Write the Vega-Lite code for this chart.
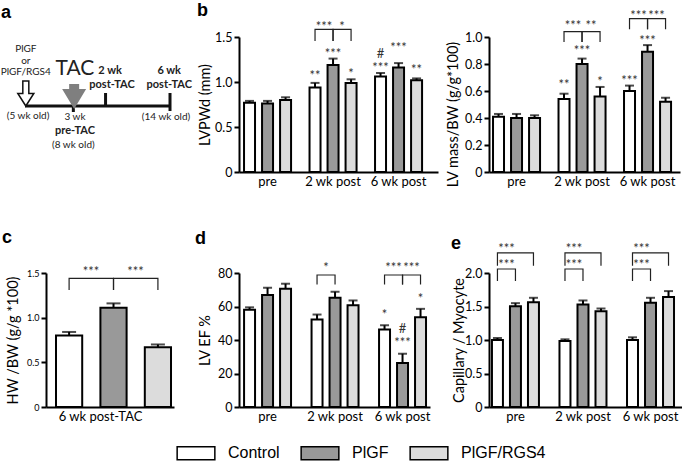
{
  "$schema": "https://vega.github.io/schema/vega-lite/v6.json",
  "padding": {"left": 0, "top": 1, "right": 0, "bottom": 0},
  "background": "#ffffff",
  "datasets": {
    "timeline": [
      {"part": "timeline", "age": 5, "age_end": 14, "level": 0, "level_end": 0},
      {"part": "TAC", "age": 8, "age_end": 8, "level": 0, "level_end": -6},
      {"part": "2 wk post-TAC", "age": 10, "age_end": 10, "level": 13, "level_end": 0},
      {"part": "6 wk post-TAC", "age": 14, "age_end": 14, "level": 13, "level_end": -5}
    ],
    "arrows": [
      {"event": "treatment", "age": 5.05, "level": 12.5},
      {"event": "TAC", "age": 8.05, "level": 9.5}
    ],
    "diagramText": [
      {"text": "PlGF", "age": 5.05, "level": 57, "role": "treatment"},
      {"text": "or", "age": 5.05, "level": 45, "role": "treatment"},
      {"text": "PlGF/RGS4", "age": 5.05, "level": 34, "role": "treatment"},
      {"text": "TAC", "age": 8.1, "level": 37, "role": "procedure"},
      {"text": "2 wk", "age": 10.28, "level": 35, "role": "time point"},
      {"text": "post-TAC", "age": 10.4, "level": 21.5, "role": "time point"},
      {"text": "6 wk", "age": 13.95, "level": 35, "role": "time point"},
      {"text": "post-TAC", "age": 13.95, "level": 21.5, "role": "time point"},
      {"text": "(5 wk old)", "age": 5.19, "level": -10, "role": "age"},
      {"text": "3 wk", "age": 8.1, "level": -11, "role": "age"},
      {"text": "pre-TAC", "age": 8.1, "level": -25, "role": "time point"},
      {"text": "(8 wk old)", "age": 8, "level": -39, "role": "age"},
      {"text": "(14 wk old)", "age": 13.75, "level": -11, "role": "age"}
    ],
    "bars": [
      {"measure": "LVPWd", "time": "pre", "group": "Control", "value": 0.77, "upper": 0.79},
      {"measure": "LVPWd", "time": "pre", "group": "PlGF", "value": 0.76, "upper": 0.79},
      {"measure": "LVPWd", "time": "pre", "group": "PlGF/RGS4", "value": 0.80, "upper": 0.83},
      {"measure": "LVPWd", "time": "2 wk post", "group": "Control", "value": 0.94, "upper": 0.99},
      {"measure": "LVPWd", "time": "2 wk post", "group": "PlGF", "value": 1.19, "upper": 1.26},
      {"measure": "LVPWd", "time": "2 wk post", "group": "PlGF/RGS4", "value": 0.99, "upper": 1.03},
      {"measure": "LVPWd", "time": "6 wk post", "group": "Control", "value": 1.06, "upper": 1.10},
      {"measure": "LVPWd", "time": "6 wk post", "group": "PlGF", "value": 1.16, "upper": 1.21},
      {"measure": "LVPWd", "time": "6 wk post", "group": "PlGF/RGS4", "value": 1.02, "upper": 1.04},
      {"measure": "LVmass", "time": "pre", "group": "Control", "value": 0.41, "upper": 0.43},
      {"measure": "LVmass", "time": "pre", "group": "PlGF", "value": 0.40, "upper": 0.43},
      {"measure": "LVmass", "time": "pre", "group": "PlGF/RGS4", "value": 0.40, "upper": 0.42},
      {"measure": "LVmass", "time": "2 wk post", "group": "Control", "value": 0.54, "upper": 0.58},
      {"measure": "LVmass", "time": "2 wk post", "group": "PlGF", "value": 0.80, "upper": 0.84},
      {"measure": "LVmass", "time": "2 wk post", "group": "PlGF/RGS4", "value": 0.56, "upper": 0.63},
      {"measure": "LVmass", "time": "6 wk post", "group": "Control", "value": 0.60, "upper": 0.64},
      {"measure": "LVmass", "time": "6 wk post", "group": "PlGF", "value": 0.89, "upper": 0.94},
      {"measure": "LVmass", "time": "6 wk post", "group": "PlGF/RGS4", "value": 0.52, "upper": 0.55},
      {"measure": "HW", "time": "6 wk post-TAC", "group": "Control", "value": 0.80, "upper": 0.84},
      {"measure": "HW", "time": "6 wk post-TAC", "group": "PlGF", "value": 1.11, "upper": 1.16},
      {"measure": "HW", "time": "6 wk post-TAC", "group": "PlGF/RGS4", "value": 0.67, "upper": 0.70},
      {"measure": "EF", "time": "pre", "group": "Control", "value": 58, "upper": 59.5},
      {"measure": "EF", "time": "pre", "group": "PlGF", "value": 66.8, "upper": 71.2},
      {"measure": "EF", "time": "pre", "group": "PlGF/RGS4", "value": 70.6, "upper": 73.6},
      {"measure": "EF", "time": "2 wk post", "group": "Control", "value": 52.2, "upper": 55.2},
      {"measure": "EF", "time": "2 wk post", "group": "PlGF", "value": 65.2, "upper": 68.8},
      {"measure": "EF", "time": "2 wk post", "group": "PlGF/RGS4", "value": 60.8, "upper": 63.6},
      {"measure": "EF", "time": "6 wk post", "group": "Control", "value": 46.2, "upper": 48.8},
      {"measure": "EF", "time": "6 wk post", "group": "PlGF", "value": 26.2, "upper": 31.8},
      {"measure": "EF", "time": "6 wk post", "group": "PlGF/RGS4", "value": 53.6, "upper": 58.6},
      {"measure": "Cap", "time": "pre", "group": "Control", "value": 1.00, "upper": 1.03},
      {"measure": "Cap", "time": "pre", "group": "PlGF", "value": 1.505, "upper": 1.55},
      {"measure": "Cap", "time": "pre", "group": "PlGF/RGS4", "value": 1.565, "upper": 1.63},
      {"measure": "Cap", "time": "2 wk post", "group": "Control", "value": 0.985, "upper": 1.01},
      {"measure": "Cap", "time": "2 wk post", "group": "PlGF", "value": 1.53, "upper": 1.59},
      {"measure": "Cap", "time": "2 wk post", "group": "PlGF/RGS4", "value": 1.43, "upper": 1.47},
      {"measure": "Cap", "time": "6 wk post", "group": "Control", "value": 1.00, "upper": 1.04},
      {"measure": "Cap", "time": "6 wk post", "group": "PlGF", "value": 1.555, "upper": 1.63},
      {"measure": "Cap", "time": "6 wk post", "group": "PlGF/RGS4", "value": 1.64, "upper": 1.73}
    ],
    "notes": [
      {"measure": "LVPWd", "time": "2 wk post", "group": "Control", "value": 1.10, "label": "**"},
      {"measure": "LVPWd", "time": "2 wk post", "group": "PlGF", "value": 1.35, "label": "***"},
      {"measure": "LVPWd", "time": "2 wk post", "group": "PlGF/RGS4", "value": 1.12, "label": "*"},
      {"measure": "LVPWd", "time": "6 wk post", "group": "Control", "value": 1.19, "label": "***"},
      {"measure": "LVPWd", "time": "6 wk post", "group": "Control", "value": 1.34, "label": "#"},
      {"measure": "LVPWd", "time": "6 wk post", "group": "PlGF", "value": 1.41, "label": "***"},
      {"measure": "LVPWd", "time": "6 wk post", "group": "PlGF/RGS4", "value": 1.17, "label": "**"},
      {"measure": "LVmass", "time": "2 wk post", "group": "Control", "value": 0.67, "label": "**"},
      {"measure": "LVmass", "time": "2 wk post", "group": "PlGF", "value": 0.92, "label": "***"},
      {"measure": "LVmass", "time": "2 wk post", "group": "PlGF/RGS4", "value": 0.69, "label": "*"},
      {"measure": "LVmass", "time": "6 wk post", "group": "Control", "value": 0.70, "label": "***"},
      {"measure": "LVmass", "time": "6 wk post", "group": "PlGF", "value": 0.99, "label": "***"},
      {"measure": "EF", "time": "6 wk post", "group": "Control", "value": 56.6, "label": "*"},
      {"measure": "EF", "time": "6 wk post", "group": "PlGF", "value": 48.5, "label": "#"},
      {"measure": "EF", "time": "6 wk post", "group": "PlGF", "value": 40.2, "label": "***"},
      {"measure": "EF", "time": "6 wk post", "group": "PlGF/RGS4", "value": 66.2, "label": "*"}
    ],
    "bracketLabels": [
      {"measure": "LVPWd", "time": "2 wk post", "group": "Control", "value": 1.65, "label": "***"},
      {"measure": "LVPWd", "time": "2 wk post", "group": "PlGF", "value": 1.65, "label": "*"},
      {"measure": "LVmass", "time": "2 wk post", "group": "Control", "value": 1.106, "label": "***"},
      {"measure": "LVmass", "time": "2 wk post", "group": "PlGF", "value": 1.106, "label": "**"},
      {"measure": "LVmass", "time": "6 wk post", "group": "Control", "value": 1.18, "label": "***"},
      {"measure": "LVmass", "time": "6 wk post", "group": "PlGF", "value": 1.18, "label": "***"},
      {"measure": "HW", "time": "6 wk post-TAC", "group": "Control", "value": 1.54, "label": "***"},
      {"measure": "HW", "time": "6 wk post-TAC", "group": "PlGF", "value": 1.54, "label": "***"},
      {"measure": "EF", "time": "2 wk post", "group": "Control", "value": 84.8, "label": "*"},
      {"measure": "EF", "time": "6 wk post", "group": "Control", "value": 84.8, "label": "***"},
      {"measure": "EF", "time": "6 wk post", "group": "PlGF", "value": 84.8, "label": "***"},
      {"measure": "Cap", "time": "pre", "group": "Control", "value": 2.41, "label": "***"},
      {"measure": "Cap", "time": "pre", "group": "Control", "value": 2.16, "label": "***"},
      {"measure": "Cap", "time": "2 wk post", "group": "Control", "value": 2.41, "label": "***"},
      {"measure": "Cap", "time": "2 wk post", "group": "Control", "value": 2.16, "label": "***"},
      {"measure": "Cap", "time": "6 wk post", "group": "Control", "value": 2.41, "label": "***"},
      {"measure": "Cap", "time": "6 wk post", "group": "Control", "value": 2.16, "label": "***"}
    ],
    "brackets": [
      {"measure": "LVPWd", "time": "2 wk post", "bracket": "2 C-P", "group": "Control", "value": 1.456, "seq": 1},
      {"measure": "LVPWd", "time": "2 wk post", "bracket": "2 C-P", "group": "Control", "value": 1.585, "seq": 2},
      {"measure": "LVPWd", "time": "2 wk post", "bracket": "2 C-P", "group": "PlGF", "value": 1.585, "seq": 3},
      {"measure": "LVPWd", "time": "2 wk post", "bracket": "2 C-P", "group": "PlGF", "value": 1.456, "seq": 4},
      {"measure": "LVPWd", "time": "2 wk post", "bracket": "2 P-R", "group": "PlGF", "value": 1.456, "seq": 1},
      {"measure": "LVPWd", "time": "2 wk post", "bracket": "2 P-R", "group": "PlGF", "value": 1.585, "seq": 2},
      {"measure": "LVPWd", "time": "2 wk post", "bracket": "2 P-R", "group": "PlGF/RGS4", "value": 1.585, "seq": 3},
      {"measure": "LVPWd", "time": "2 wk post", "bracket": "2 P-R", "group": "PlGF/RGS4", "value": 1.456, "seq": 4},
      {"measure": "LVmass", "time": "2 wk post", "bracket": "2 C-P", "group": "Control", "value": 0.963, "seq": 1},
      {"measure": "LVmass", "time": "2 wk post", "bracket": "2 C-P", "group": "Control", "value": 1.04, "seq": 2},
      {"measure": "LVmass", "time": "2 wk post", "bracket": "2 C-P", "group": "PlGF", "value": 1.04, "seq": 3},
      {"measure": "LVmass", "time": "2 wk post", "bracket": "2 C-P", "group": "PlGF", "value": 0.963, "seq": 4},
      {"measure": "LVmass", "time": "2 wk post", "bracket": "2 P-R", "group": "PlGF", "value": 0.963, "seq": 1},
      {"measure": "LVmass", "time": "2 wk post", "bracket": "2 P-R", "group": "PlGF", "value": 1.04, "seq": 2},
      {"measure": "LVmass", "time": "2 wk post", "bracket": "2 P-R", "group": "PlGF/RGS4", "value": 1.04, "seq": 3},
      {"measure": "LVmass", "time": "2 wk post", "bracket": "2 P-R", "group": "PlGF/RGS4", "value": 0.963, "seq": 4},
      {"measure": "LVmass", "time": "6 wk post", "bracket": "6 C-P", "group": "Control", "value": 1.057, "seq": 1},
      {"measure": "LVmass", "time": "6 wk post", "bracket": "6 C-P", "group": "Control", "value": 1.136, "seq": 2},
      {"measure": "LVmass", "time": "6 wk post", "bracket": "6 C-P", "group": "PlGF", "value": 1.136, "seq": 3},
      {"measure": "LVmass", "time": "6 wk post", "bracket": "6 C-P", "group": "PlGF", "value": 1.057, "seq": 4},
      {"measure": "LVmass", "time": "6 wk post", "bracket": "6 P-R", "group": "PlGF", "value": 1.057, "seq": 1},
      {"measure": "LVmass", "time": "6 wk post", "bracket": "6 P-R", "group": "PlGF", "value": 1.136, "seq": 2},
      {"measure": "LVmass", "time": "6 wk post", "bracket": "6 P-R", "group": "PlGF/RGS4", "value": 1.136, "seq": 3},
      {"measure": "LVmass", "time": "6 wk post", "bracket": "6 P-R", "group": "PlGF/RGS4", "value": 1.057, "seq": 4},
      {"measure": "HW", "time": "6 wk post-TAC", "bracket": "C-P", "group": "Control", "value": 1.31, "seq": 1},
      {"measure": "HW", "time": "6 wk post-TAC", "bracket": "C-P", "group": "Control", "value": 1.44, "seq": 2},
      {"measure": "HW", "time": "6 wk post-TAC", "bracket": "C-P", "group": "PlGF", "value": 1.44, "seq": 3},
      {"measure": "HW", "time": "6 wk post-TAC", "bracket": "C-P", "group": "PlGF", "value": 1.31, "seq": 4},
      {"measure": "HW", "time": "6 wk post-TAC", "bracket": "P-R", "group": "PlGF", "value": 1.31, "seq": 1},
      {"measure": "HW", "time": "6 wk post-TAC", "bracket": "P-R", "group": "PlGF", "value": 1.44, "seq": 2},
      {"measure": "HW", "time": "6 wk post-TAC", "bracket": "P-R", "group": "PlGF/RGS4", "value": 1.44, "seq": 3},
      {"measure": "HW", "time": "6 wk post-TAC", "bracket": "P-R", "group": "PlGF/RGS4", "value": 1.31, "seq": 4},
      {"measure": "EF", "time": "2 wk post", "bracket": "2 C-P", "group": "Control", "value": 73.2, "seq": 1},
      {"measure": "EF", "time": "2 wk post", "bracket": "2 C-P", "group": "Control", "value": 78.8, "seq": 2},
      {"measure": "EF", "time": "2 wk post", "bracket": "2 C-P", "group": "PlGF", "value": 78.8, "seq": 3},
      {"measure": "EF", "time": "2 wk post", "bracket": "2 C-P", "group": "PlGF", "value": 73.2, "seq": 4},
      {"measure": "EF", "time": "6 wk post", "bracket": "6 C-P", "group": "Control", "value": 73.2, "seq": 1},
      {"measure": "EF", "time": "6 wk post", "bracket": "6 C-P", "group": "Control", "value": 78.8, "seq": 2},
      {"measure": "EF", "time": "6 wk post", "bracket": "6 C-P", "group": "PlGF", "value": 78.8, "seq": 3},
      {"measure": "EF", "time": "6 wk post", "bracket": "6 C-P", "group": "PlGF", "value": 73.2, "seq": 4},
      {"measure": "EF", "time": "6 wk post", "bracket": "6 P-R", "group": "PlGF", "value": 73.2, "seq": 1},
      {"measure": "EF", "time": "6 wk post", "bracket": "6 P-R", "group": "PlGF", "value": 78.8, "seq": 2},
      {"measure": "EF", "time": "6 wk post", "bracket": "6 P-R", "group": "PlGF/RGS4", "value": 78.8, "seq": 3},
      {"measure": "EF", "time": "6 wk post", "bracket": "6 P-R", "group": "PlGF/RGS4", "value": 73.2, "seq": 4},
      {"measure": "Cap", "time": "pre", "bracket": "pre C-R", "group": "Control", "value": 2.11, "seq": 1},
      {"measure": "Cap", "time": "pre", "bracket": "pre C-R", "group": "Control", "value": 2.30, "seq": 2},
      {"measure": "Cap", "time": "pre", "bracket": "pre C-R", "group": "PlGF/RGS4", "value": 2.30, "seq": 3},
      {"measure": "Cap", "time": "pre", "bracket": "pre C-R", "group": "PlGF/RGS4", "value": 2.11, "seq": 4},
      {"measure": "Cap", "time": "pre", "bracket": "pre C-P", "group": "Control", "value": 1.88, "seq": 1},
      {"measure": "Cap", "time": "pre", "bracket": "pre C-P", "group": "Control", "value": 2.06, "seq": 2},
      {"measure": "Cap", "time": "pre", "bracket": "pre C-P", "group": "PlGF", "value": 2.06, "seq": 3},
      {"measure": "Cap", "time": "pre", "bracket": "pre C-P", "group": "PlGF", "value": 1.88, "seq": 4},
      {"measure": "Cap", "time": "2 wk post", "bracket": "2 C-R", "group": "Control", "value": 2.11, "seq": 1},
      {"measure": "Cap", "time": "2 wk post", "bracket": "2 C-R", "group": "Control", "value": 2.30, "seq": 2},
      {"measure": "Cap", "time": "2 wk post", "bracket": "2 C-R", "group": "PlGF/RGS4", "value": 2.30, "seq": 3},
      {"measure": "Cap", "time": "2 wk post", "bracket": "2 C-R", "group": "PlGF/RGS4", "value": 2.11, "seq": 4},
      {"measure": "Cap", "time": "2 wk post", "bracket": "2 C-P", "group": "Control", "value": 1.88, "seq": 1},
      {"measure": "Cap", "time": "2 wk post", "bracket": "2 C-P", "group": "Control", "value": 2.06, "seq": 2},
      {"measure": "Cap", "time": "2 wk post", "bracket": "2 C-P", "group": "PlGF", "value": 2.06, "seq": 3},
      {"measure": "Cap", "time": "2 wk post", "bracket": "2 C-P", "group": "PlGF", "value": 1.88, "seq": 4},
      {"measure": "Cap", "time": "6 wk post", "bracket": "6 C-R", "group": "Control", "value": 2.11, "seq": 1},
      {"measure": "Cap", "time": "6 wk post", "bracket": "6 C-R", "group": "Control", "value": 2.30, "seq": 2},
      {"measure": "Cap", "time": "6 wk post", "bracket": "6 C-R", "group": "PlGF/RGS4", "value": 2.30, "seq": 3},
      {"measure": "Cap", "time": "6 wk post", "bracket": "6 C-R", "group": "PlGF/RGS4", "value": 2.11, "seq": 4},
      {"measure": "Cap", "time": "6 wk post", "bracket": "6 C-P", "group": "Control", "value": 1.88, "seq": 1},
      {"measure": "Cap", "time": "6 wk post", "bracket": "6 C-P", "group": "Control", "value": 2.06, "seq": 2},
      {"measure": "Cap", "time": "6 wk post", "bracket": "6 C-P", "group": "PlGF", "value": 2.06, "seq": 3},
      {"measure": "Cap", "time": "6 wk post", "bracket": "6 C-P", "group": "PlGF", "value": 1.88, "seq": 4}
    ]
  },
  "columns": 3,
  "spacing": {"row": 101, "column": 51},
  "bounds": "flush",
  "align": "each",
  "resolve": {"scale": {"x": "independent", "y": "independent", "xOffset": "independent", "fill": "shared"}},
  "concat": [
    {
      "width": 142, "height": 135,
      "title": {"text": "a", "dx": -45, "offset": 15},
      "encoding": {
        "x": {"field": "age", "type": "quantitative", "scale": {"domain": [6.303, 15.117], "nice": false, "zero": false}, "axis": null},
        "y": {"field": "level", "type": "quantitative", "scale": {"domain": [-66, 69], "nice": false, "zero": false}, "axis": null}
      },
      "layer": [
        {"data": {"name": "timeline"}, "mark": {"type": "rule", "strokeWidth": 3, "color": "#111"},
         "encoding": {"x2": {"field": "age_end"}, "y2": {"field": "level_end"}}},
        {"data": {"name": "arrows"}, "transform": [{"filter": "datum.event === 'treatment'"}],
         "mark": {"type": "point", "shape": "M-0.24,-1H0.24V0H0.64L0,1L-0.64,0H-0.24Z", "size": 625, "filled": true, "fill": "#ffffff", "stroke": "#111", "strokeWidth": 1.5, "opacity": 1}},
        {"data": {"name": "arrows"}, "transform": [{"filter": "datum.event === 'TAC'"}],
         "mark": {"type": "point", "shape": "M-0.4,-1H0.4V-0.6H0.96L0,1L-0.96,-0.6H-0.4Z", "size": 625, "filled": true, "fill": "#7f7f7f", "strokeWidth": 0, "opacity": 1}},
        {"data": {"name": "diagramText"}, "transform": [{"filter": "datum.role === 'treatment' || datum.role === 'age'"}],
         "mark": {"type": "text", "fontSize": 10, "color": "#222", "baseline": "middle"},
         "encoding": {"text": {"field": "text", "type": "nominal"}}},
        {"data": {"name": "diagramText"}, "transform": [{"filter": "datum.role === 'time point'"}],
         "mark": {"type": "text", "fontSize": 11, "fontWeight": "bold", "color": "#222", "baseline": "middle"},
         "encoding": {"text": {"field": "text", "type": "nominal"}}},
        {"data": {"name": "diagramText"}, "transform": [{"filter": "datum.role === 'procedure'"}],
         "mark": {"type": "text", "fontSize": 21, "color": "#222", "baseline": "middle"},
         "encoding": {"text": {"field": "text", "type": "nominal"}}}
      ]
    },
    {
      "width": 199, "height": 135,
      "title": {"text": "b", "dx": -42, "offset": 1},
      "encoding": {
        "x": {"field": "time", "type": "nominal", "title": null, "scale": {"domain": ["pre", "2 wk post", "6 wk post"], "paddingInner": 0.282, "paddingOuter": 0.16, "align": 0.24}},
        "xOffset": {"field": "group", "type": "nominal", "scale": {"domain": ["Control", "PlGF", "PlGF/RGS4"], "paddingInner": 0.39, "paddingOuter": 0}},
        "y": {"field": "value", "type": "quantitative", "title": "LVPWd (mm)", "scale": {"domain": [0, 1.5], "nice": false},
              "axis": {"values": [0, 0.5, 1, 1.5], "labelExpr": "datum.value === 0 ? '0' : format(datum.value, '.1f')", "titleX": -34, "titleY": 67.5}}
      },
      "layer": [
        {"data": {"name": "bars"}, "transform": [{"filter": "datum.measure === 'LVPWd'"}],
         "mark": {"type": "bar", "stroke": "#000", "strokeWidth": 2},
         "encoding": {"fill": {"field": "group", "type": "nominal", "scale": {"domain": ["Control", "PlGF", "PlGF/RGS4"], "range": ["#ffffff", "#999999", "#dcdcdc"]},
           "legend": {"title": null, "orient": "none", "legendX": 142, "legendY": 408, "direction": "horizontal", "symbolType": "M-2.9,-1H2.9V1H-2.9Z", "symbolSize": 169, "symbolStrokeColor": "#000", "symbolStrokeWidth": 1.5, "labelFont": "Liberation Sans", "labelFontSize": 16, "labelColor": "#000", "labelOffset": 24, "columnPadding": 18, "padding": 0}}}},
        {"data": {"name": "bars"}, "transform": [{"filter": "datum.measure === 'LVPWd'"}],
         "mark": {"type": "rule", "color": "#000", "strokeWidth": 2},
         "encoding": {"y2": {"field": "upper"}}},
        {"data": {"name": "bars"}, "transform": [{"filter": "datum.measure === 'LVPWd'"}],
         "mark": {"type": "tick", "orient": "horizontal", "color": "#000", "thickness": 2, "size": 9},
         "encoding": {"y": {"field": "upper", "type": "quantitative", "title": "LVPWd (mm)", "scale": {"domain": [0, 1.5], "nice": false}}}},
        {"data": {"name": "notes"}, "transform": [{"filter": "datum.measure === 'LVPWd'"}],
         "mark": {"type": "text", "fontSize": 13, "color": "#333", "baseline": "alphabetic", "dy": 7},
         "encoding": {"text": {"field": "label", "type": "nominal"}}},
        {"data": {"name": "brackets"}, "transform": [{"filter": "datum.measure === 'LVPWd'"}],
         "mark": {"type": "line", "color": "#222", "strokeWidth": 1.2},
         "encoding": {"detail": {"field": "bracket", "type": "nominal"}, "order": {"field": "seq", "type": "quantitative"}}},
        {"data": {"name": "bracketLabels"}, "transform": [{"filter": "datum.measure === 'LVPWd'"}],
         "mark": {"type": "text", "fontSize": 13, "color": "#333", "baseline": "alphabetic", "dy": 7, "dx": 9},
         "encoding": {"text": {"field": "label", "type": "nominal"}}}
      ]
    },
    {
      "width": 191, "height": 135,
      "encoding": {
        "x": {"field": "time", "type": "nominal", "title": null, "scale": {"domain": ["pre", "2 wk post", "6 wk post"], "paddingInner": 0.282, "paddingOuter": 0.099, "align": 0.31}},
        "xOffset": {"field": "group", "type": "nominal", "scale": {"domain": ["Control", "PlGF", "PlGF/RGS4"], "paddingInner": 0.39, "paddingOuter": 0}},
        "y": {"field": "value", "type": "quantitative", "title": "LV mass/BW (g/g*100)", "scale": {"domain": [0, 1], "nice": false},
              "axis": {"values": [0, 0.2, 0.4, 0.6, 0.8, 1], "labelExpr": "datum.value === 0 ? '0' : format(datum.value, '.1f')", "titleX": -36, "titleY": 77}}
      },
      "layer": [
        {"data": {"name": "bars"}, "transform": [{"filter": "datum.measure === 'LVmass'"}],
         "mark": {"type": "bar", "stroke": "#000", "strokeWidth": 2},
         "encoding": {"fill": {"field": "group", "type": "nominal", "scale": {"domain": ["Control", "PlGF", "PlGF/RGS4"], "range": ["#ffffff", "#999999", "#dcdcdc"]},
           "legend": {"title": null, "orient": "none", "legendX": 142, "legendY": 408, "direction": "horizontal", "symbolType": "M-2.9,-1H2.9V1H-2.9Z", "symbolSize": 169, "symbolStrokeColor": "#000", "symbolStrokeWidth": 1.5, "labelFont": "Liberation Sans", "labelFontSize": 16, "labelColor": "#000", "labelOffset": 24, "columnPadding": 18, "padding": 0}}}},
        {"data": {"name": "bars"}, "transform": [{"filter": "datum.measure === 'LVmass'"}],
         "mark": {"type": "rule", "color": "#000", "strokeWidth": 2},
         "encoding": {"y2": {"field": "upper"}}},
        {"data": {"name": "bars"}, "transform": [{"filter": "datum.measure === 'LVmass'"}],
         "mark": {"type": "tick", "orient": "horizontal", "color": "#000", "thickness": 2, "size": 9},
         "encoding": {"y": {"field": "upper", "type": "quantitative", "title": "LV mass/BW (g/g*100)", "scale": {"domain": [0, 1], "nice": false}}}},
        {"data": {"name": "notes"}, "transform": [{"filter": "datum.measure === 'LVmass'"}],
         "mark": {"type": "text", "fontSize": 13, "color": "#333", "baseline": "alphabetic", "dy": 7},
         "encoding": {"text": {"field": "label", "type": "nominal"}}},
        {"data": {"name": "brackets"}, "transform": [{"filter": "datum.measure === 'LVmass'"}],
         "mark": {"type": "line", "color": "#222", "strokeWidth": 1.2},
         "encoding": {"detail": {"field": "bracket", "type": "nominal"}, "order": {"field": "seq", "type": "quantitative"}}},
        {"data": {"name": "bracketLabels"}, "transform": [{"filter": "datum.measure === 'LVmass'"}],
         "mark": {"type": "text", "fontSize": 13, "color": "#333", "baseline": "alphabetic", "dy": 7, "dx": 9},
         "encoding": {"text": {"field": "label", "type": "nominal"}}}
      ]
    },
    {
      "width": 128, "height": 134,
      "title": {"text": "c", "dx": -44, "offset": 19},
      "encoding": {
        "x": {"field": "time", "type": "nominal", "title": null, "scale": {"domain": ["6 wk post-TAC"], "paddingInner": 0, "paddingOuter": 0.0565, "align": 0.77}, "axis": {"labelOffset": -13}},
        "xOffset": {"field": "group", "type": "nominal", "scale": {"domain": ["Control", "PlGF", "PlGF/RGS4"], "paddingInner": 0.41, "paddingOuter": 0}},
        "y": {"field": "value", "type": "quantitative", "title": "HW /BW (g/g *100)", "scale": {"domain": [0, 1.5], "nice": false},
              "axis": {"values": [0, 0.5, 1, 1.5], "labelExpr": "datum.value === 0 ? '0' : format(datum.value, '.1f')", "labelFontSize": 9, "titleX": -33, "titleY": 67}}
      },
      "layer": [
        {"data": {"name": "bars"}, "transform": [{"filter": "datum.measure === 'HW'"}],
         "mark": {"type": "bar", "stroke": "#000", "strokeWidth": 2},
         "encoding": {"fill": {"field": "group", "type": "nominal", "scale": {"domain": ["Control", "PlGF", "PlGF/RGS4"], "range": ["#ffffff", "#999999", "#dcdcdc"]},
           "legend": {"title": null, "orient": "none", "legendX": 142, "legendY": 408, "direction": "horizontal", "symbolType": "M-2.9,-1H2.9V1H-2.9Z", "symbolSize": 169, "symbolStrokeColor": "#000", "symbolStrokeWidth": 1.5, "labelFont": "Liberation Sans", "labelFontSize": 16, "labelColor": "#000", "labelOffset": 24, "columnPadding": 18, "padding": 0}}}},
        {"data": {"name": "bars"}, "transform": [{"filter": "datum.measure === 'HW'"}],
         "mark": {"type": "rule", "color": "#000", "strokeWidth": 2},
         "encoding": {"y2": {"field": "upper"}}},
        {"data": {"name": "bars"}, "transform": [{"filter": "datum.measure === 'HW'"}],
         "mark": {"type": "tick", "orient": "horizontal", "color": "#000", "thickness": 2, "size": 14},
         "encoding": {"y": {"field": "upper", "type": "quantitative", "title": "HW /BW (g/g *100)", "scale": {"domain": [0, 1.5], "nice": false}}}},
        {"data": {"name": "brackets"}, "transform": [{"filter": "datum.measure === 'HW'"}],
         "mark": {"type": "line", "color": "#222", "strokeWidth": 1.2},
         "encoding": {"detail": {"field": "bracket", "type": "nominal"}, "order": {"field": "seq", "type": "quantitative"}}},
        {"data": {"name": "bracketLabels"}, "transform": [{"filter": "datum.measure === 'HW'"}],
         "mark": {"type": "text", "fontSize": 13, "color": "#333", "baseline": "alphabetic", "dy": 7, "dx": 22},
         "encoding": {"text": {"field": "label", "type": "nominal"}}}
      ]
    },
    {
      "width": 191, "height": 134,
      "title": {"text": "d", "dx": -44, "offset": 13.6},
      "encoding": {
        "x": {"field": "time", "type": "nominal", "title": null, "scale": {"domain": ["pre", "2 wk post", "6 wk post"], "paddingInner": 0.304, "paddingOuter": 0.067, "align": 0.56}},
        "xOffset": {"field": "group", "type": "nominal", "scale": {"domain": ["Control", "PlGF", "PlGF/RGS4"], "paddingInner": 0.39, "paddingOuter": 0}},
        "y": {"field": "value", "type": "quantitative", "title": "LV EF %", "scale": {"domain": [0, 80], "nice": false},
              "axis": {"values": [0, 20, 40, 60, 80], "titleX": -34, "titleY": 67}}
      },
      "layer": [
        {"data": {"name": "bars"}, "transform": [{"filter": "datum.measure === 'EF'"}],
         "mark": {"type": "bar", "stroke": "#000", "strokeWidth": 2},
         "encoding": {"fill": {"field": "group", "type": "nominal", "scale": {"domain": ["Control", "PlGF", "PlGF/RGS4"], "range": ["#ffffff", "#999999", "#dcdcdc"]},
           "legend": {"title": null, "orient": "none", "legendX": 142, "legendY": 408, "direction": "horizontal", "symbolType": "M-2.9,-1H2.9V1H-2.9Z", "symbolSize": 169, "symbolStrokeColor": "#000", "symbolStrokeWidth": 1.5, "labelFont": "Liberation Sans", "labelFontSize": 16, "labelColor": "#000", "labelOffset": 24, "columnPadding": 18, "padding": 0}}}},
        {"data": {"name": "bars"}, "transform": [{"filter": "datum.measure === 'EF'"}],
         "mark": {"type": "rule", "color": "#000", "strokeWidth": 2},
         "encoding": {"y2": {"field": "upper"}}},
        {"data": {"name": "bars"}, "transform": [{"filter": "datum.measure === 'EF'"}],
         "mark": {"type": "tick", "orient": "horizontal", "color": "#000", "thickness": 2, "size": 9},
         "encoding": {"y": {"field": "upper", "type": "quantitative", "title": "LV EF %", "scale": {"domain": [0, 80], "nice": false}}}},
        {"data": {"name": "notes"}, "transform": [{"filter": "datum.measure === 'EF'"}],
         "mark": {"type": "text", "fontSize": 13, "color": "#333", "baseline": "alphabetic", "dy": 7},
         "encoding": {"text": {"field": "label", "type": "nominal"}}},
        {"data": {"name": "brackets"}, "transform": [{"filter": "datum.measure === 'EF'"}],
         "mark": {"type": "line", "color": "#222", "strokeWidth": 1.2},
         "encoding": {"detail": {"field": "bracket", "type": "nominal"}, "order": {"field": "seq", "type": "quantitative"}}},
        {"data": {"name": "bracketLabels"}, "transform": [{"filter": "datum.measure === 'EF'"}],
         "mark": {"type": "text", "fontSize": 13, "color": "#333", "baseline": "alphabetic", "dy": 7, "dx": 9},
         "encoding": {"text": {"field": "label", "type": "nominal"}}}
      ]
    },
    {
      "width": 193, "height": 134,
      "title": {"text": "e", "dx": -38, "offset": -10},
      "encoding": {
        "x": {"field": "time", "type": "nominal", "title": null, "scale": {"domain": ["pre", "2 wk post", "6 wk post"], "paddingInner": 0.304, "paddingOuter": 0.081, "align": 0.27}},
        "xOffset": {"field": "group", "type": "nominal", "scale": {"domain": ["Control", "PlGF", "PlGF/RGS4"], "paddingInner": 0.39, "paddingOuter": 0}},
        "y": {"field": "value", "type": "quantitative", "title": "Capillary / Myocyte", "scale": {"domain": [0, 2], "nice": false},
              "axis": {"values": [0, 0.5, 1, 1.5, 2], "labelExpr": "datum.value === 0 ? '0' : format(datum.value, '.1f')", "titleX": -30, "titleY": 67}}
      },
      "layer": [
        {"data": {"name": "bars"}, "transform": [{"filter": "datum.measure === 'Cap'"}],
         "mark": {"type": "bar", "stroke": "#000", "strokeWidth": 2},
         "encoding": {"fill": {"field": "group", "type": "nominal", "scale": {"domain": ["Control", "PlGF", "PlGF/RGS4"], "range": ["#ffffff", "#999999", "#dcdcdc"]},
           "legend": {"title": null, "orient": "none", "legendX": 142, "legendY": 408, "direction": "horizontal", "symbolType": "M-2.9,-1H2.9V1H-2.9Z", "symbolSize": 169, "symbolStrokeColor": "#000", "symbolStrokeWidth": 1.5, "labelFont": "Liberation Sans", "labelFontSize": 16, "labelColor": "#000", "labelOffset": 24, "columnPadding": 18, "padding": 0}}}},
        {"data": {"name": "bars"}, "transform": [{"filter": "datum.measure === 'Cap'"}],
         "mark": {"type": "rule", "color": "#000", "strokeWidth": 2},
         "encoding": {"y2": {"field": "upper"}}},
        {"data": {"name": "bars"}, "transform": [{"filter": "datum.measure === 'Cap'"}],
         "mark": {"type": "tick", "orient": "horizontal", "color": "#000", "thickness": 2, "size": 9},
         "encoding": {"y": {"field": "upper", "type": "quantitative", "title": "Capillary / Myocyte", "scale": {"domain": [0, 2], "nice": false}}}},
        {"data": {"name": "brackets"}, "transform": [{"filter": "datum.measure === 'Cap'"}],
         "mark": {"type": "line", "color": "#222", "strokeWidth": 1.2},
         "encoding": {"detail": {"field": "bracket", "type": "nominal"}, "order": {"field": "seq", "type": "quantitative"}}},
        {"data": {"name": "bracketLabels"}, "transform": [{"filter": "datum.measure === 'Cap'"}],
         "mark": {"type": "text", "fontSize": 13, "color": "#333", "baseline": "alphabetic", "dy": 7, "dx": 9},
         "encoding": {"text": {"field": "label", "type": "nominal"}}}
      ]
    }
  ],
  "config": {
    "font": "Lato",
    "view": {"stroke": null},
    "title": {"font": "Liberation Sans", "fontSize": 18, "fontWeight": "bold", "color": "#000", "baseline": "alphabetic", "anchor": "start", "frame": "group"},
    "axis": {"domainColor": "#000", "domainWidth": 2, "tickColor": "#000", "tickWidth": 2, "tickSize": 5, "labelColor": "#000", "titleColor": "#000", "titleFontWeight": "normal", "titleFontSize": 14.5, "grid": false, "labelFont": "Lato", "titleFont": "Lato"},
    "axisX": {"ticks": false, "labelAngle": 0, "labelPadding": 3, "labelFontSize": 13},
    "axisY": {"labelFontSize": 12.5, "labelPadding": 2, "titleBaseline": "middle"}
  }
}
